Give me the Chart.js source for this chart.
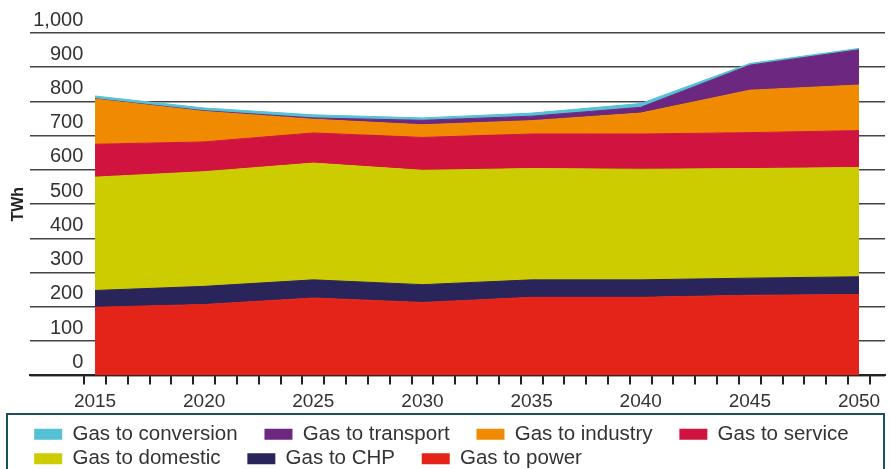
<!DOCTYPE html>
<html>
<head>
<meta charset="utf-8">
<script src="https://cdn.jsdelivr.net/npm/chart.js@4.4.1/dist/chart.umd.min.js"></script>
<style>
  html, body { margin: 0; padding: 0; background: #fff; overflow: hidden; }
  #wrap { position: relative; width: 890px; height: 479px; }
</style>
</head>
<body>
<div id="wrap"><canvas id="gasChart"></canvas></div>
<script>
// TWh by use at 5-year points
const years = [2015, 2020, 2025, 2030, 2035, 2040, 2045, 2050];
const gasToPower = [199, 207, 226, 213, 228, 228, 234, 236];
const gasToCHP = [49, 53, 53, 52, 51, 51, 50, 52];
const gasToDomestic = [331, 335, 341, 334, 325, 323, 320, 319];
const gasToService = [96, 87, 88, 96, 101, 103, 105, 108];
const gasToIndustry = [132, 89, 40, 37, 39, 61, 124, 133];
const gasToTransport = [1, 2, 4, 13, 13, 17, 73, 103];
const gasToConversion = [8, 8, 9, 7, 9, 11, 5, 4];

const FONT = "'Liberation Sans', Arial, sans-serif";

function series(label, values, color, fill) {
  return {
    label: label,
    data: values.map((v, i) => ({x: years[i], y: v})),
    backgroundColor: color,
    borderColor: color,
    borderWidth: 1,
    pointRadius: 0,
    tension: 0,
    fill: fill
  };
}

// frame round the legend, like the boxed key in the original
const legendFrame = {
  id: 'legendFrame',
  afterDraw(chart) {
    const lg = chart.legend;
    const ctx = chart.ctx;
    ctx.save();
    ctx.strokeStyle = '#1f4f5e';
    ctx.lineWidth = 2;
    ctx.strokeRect(7, lg.top - 6, 877, lg.height + 30);
    ctx.restore();
  }
};

const ctx = document.getElementById('gasChart').getContext('2d');
new Chart(ctx, {
  type: 'line',
  data: {
    datasets: [
      series('Gas to power', gasToPower, '#e42418', 'origin'),
      series('Gas to CHP', gasToCHP, '#29245a', '-1'),
      series('Gas to domestic', gasToDomestic, '#cccc00', '-1'),
      series('Gas to service', gasToService, '#d0143f', '-1'),
      series('Gas to industry', gasToIndustry, '#f08a00', '-1'),
      series('Gas to transport', gasToTransport, '#6c2780', '-1'),
      series('Gas to conversion', gasToConversion, '#55c1d5', '-1')
    ]
  },
  options: {
    responsive: true,
    maintainAspectRatio: false,
    animation: false,
    layout: {padding: {left: 0, right: 5, top: 33, bottom: 0}},
    plugins: {
      tooltip: {enabled: false},
      legend: {
        position: 'bottom',
        align: 'start',
        fullSize: false,
        reverse: true,
        labels: {
          boxWidth: 28,
          boxHeight: 11,
          padding: 4,
          color: '#333',
          font: {family: FONT, size: 20.5},
          generateLabels: (chart) => {
            const items = Chart.defaults.plugins.legend.labels.generateLabels(chart);
            items.forEach(it => { it.text = it.text + '    '; it.lineWidth = 0; });
            return items;
          }
        }
      }
    },
    scales: {
      x: {
        type: 'linear',
        min: 2012.03,
        max: 2051.19,
        afterBuildTicks: (scale) => {
          const t = [];
          for (let v = years[0] - 0.5; v <= years[years.length - 1] + 0.5; v++) t.push({value: v});
          scale.ticks = t;
        },
        ticks: {
          autoSkip: false,
          maxRotation: 0,
          labelOffset: 10.9,
          padding: 5.3,
          color: '#333',
          font: {family: FONT, size: 19, lineHeight: 1.316},
          callback: (value) => years.includes(value + 0.5) ? String(value + 0.5) : ''
        },
        grid: {drawOnChartArea: false, drawTicks: true, tickLength: 9, color: '#222', lineWidth: 2},
        border: {display: true, color: '#222', width: 2}
      },
      y: {
        stacked: true,
        min: 0,
        max: 1000,
        ticks: {
          stepSize: 100,
          mirror: true,
          crossAlign: 'far',
          padding: 3,
          labelOffset: -13,
          color: '#333',
          font: {family: FONT, size: 20},
          callback: (value) => value.toLocaleString('en-US')
        },
        grid: {color: '#444', lineWidth: 1.5, drawTicks: false},
        border: {display: false},
        title: {
          display: true,
          text: 'TWh',
          color: '#222',
          padding: {top: 9, bottom: -4},
          font: {family: FONT, size: 16, weight: 'bold'}
        }
      }
    }
  },
  plugins: [legendFrame]
});
</script>
</body>
</html>
